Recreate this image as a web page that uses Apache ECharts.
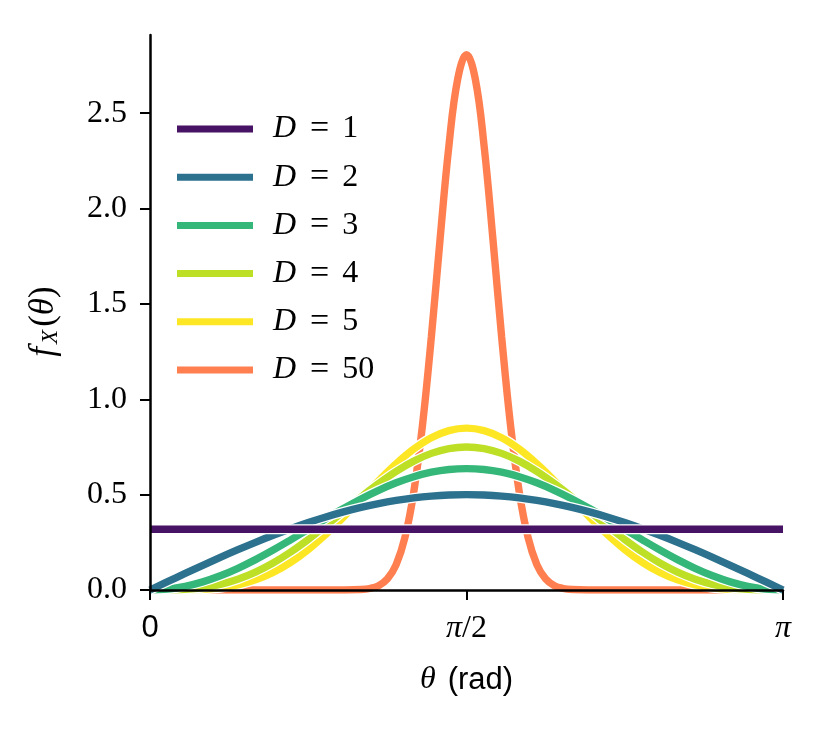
<!DOCTYPE html>
<html>
<head>
<meta charset="utf-8">
<script src="https://cdn.jsdelivr.net/npm/echarts@6/dist/echarts.min.js"></script>
<style>html,body{margin:0;padding:0;background:#fff}#c{width:830px;height:732px}</style>
</head>
<body>
<div id="c"></div>
<script>
// angles in degrees
const theta5 = [0,5,10,15,20,25,30,35,40,45,50,55,60,65,70,75,80,85,90,95,100,105,110,115,120,125,130,135,140,145,150,155,160,165,170,175,180];
const theta1 = [0,180];
const theta50 = [0,30,45,50,55,60,62.5,65,67.5,70,72.5,75,77.5,80,82.5,85,87.5,90,92.5,95,97.5,100,102.5,105,107.5,110,112.5,115,117.5,120,125,130,135,150,180];

const valsD1 = [0.3183,0.3183];
const valsD2 = [0,0.0436,0.0868,0.1294,0.1710,0.2113,0.25,0.2868,0.3214,0.3536,0.3830,0.4096,0.4330,0.4532,0.4698,0.4830,0.4924,0.4981,0.5,0.4981,0.4924,0.4830,0.4698,0.4532,0.4330,0.4096,0.3830,0.3536,0.3214,0.2868,0.25,0.2113,0.1710,0.1294,0.0868,0.0436,0];
const valsD3 = [0,0.0048,0.0192,0.0427,0.0745,0.1137,0.1592,0.2094,0.2630,0.3183,0.3736,0.4272,0.4775,0.5229,0.5622,0.5940,0.6174,0.6318,0.6366,0.6318,0.6174,0.5940,0.5622,0.5229,0.4775,0.4272,0.3736,0.3183,0.2630,0.2094,0.1592,0.1137,0.0745,0.0427,0.0192,0.0048,0];
const valsD4 = [0,0.0005,0.0039,0.0130,0.0300,0.0566,0.0938,0.1415,0.1992,0.2652,0.3371,0.4122,0.4871,0.5583,0.6223,0.6759,0.7163,0.7415,0.75,0.7415,0.7163,0.6759,0.6223,0.5583,0.4871,0.4122,0.3371,0.2652,0.1992,0.1415,0.0938,0.0566,0.0300,0.0130,0.0039,0.0005,0];
const valsD5 = [0,0.0000,0.0008,0.0038,0.0116,0.0271,0.0531,0.0919,0.1449,0.2122,0.2923,0.3822,0.4775,0.5727,0.6619,0.7389,0.7984,0.8360,0.8488,0.8360,0.7984,0.7389,0.6619,0.5727,0.4775,0.3822,0.2923,0.2122,0.1449,0.0919,0.0531,0.0271,0.0116,0.0038,0.0008,0.0000,0];
const valsD50 = [0,0,0,0,0.0002,0.0024,0.0079,0.0226,0.0580,0.1332,0.2753,0.5135,0.8664,1.3258,1.8425,2.3287,2.6790,2.8070,2.6790,2.3287,1.8425,1.3258,0.8664,0.5135,0.2753,0.1332,0.0580,0.0226,0.0079,0.0024,0.0002,0,0,0,0];

const seriesNames = ['1','2','3','4','5','50'];
const seriesColors = ['#471365','#2c718e','#35b779','#bddf26','#fde725','#ff7f50'];
const yTicks = [0,0.5,1.0,1.5,2.0,2.5];
const xTickDeg = [0,90,180];
const xTickLabels = ['{s|0}','{m|π}{r|/2}','{m|π}'];

const toRad = d => d * Math.PI / 180;
const pairs = (th, v) => th.map((t, i) => [toRad(t), v[i]]);
const seriesData = {
  '1': pairs(theta1, valsD1),
  '2': pairs(theta5, valsD2),
  '3': pairs(theta5, valsD3),
  '4': pairs(theta5, valsD4),
  '5': pairs(theta5, valsD5),
  '50': pairs(theta50, valsD50)
};

const LW = 7.4;
const series = [];
// draw D=50 first (bottom), D=1 last (top)
for (let k = seriesNames.length - 1; k >= 0; k--) {
  const n = seriesNames[k];
  const col = seriesColors[k];
  series.push({
    name: '_w' + n, type: 'line', data: seriesData[n], showSymbol: false, smooth: 0.4,
    lineStyle: {color: '#ffffff', width: LW + 2.5}, itemStyle: {color: '#ffffff'},
    silent: true, emphasis: {disabled: true}, z: 2
  });
  series.push({
    name: 'D = ' + n, type: 'line', data: seriesData[n], showSymbol: false, smooth: 0.4,
    lineStyle: {color: col, width: LW}, itemStyle: {color: col}, color: col,
    emphasis: {disabled: true}, z: 2
  });
}

const serif = "'Liberation Serif', 'DejaVu Serif', serif";
const sans = "'Liberation Sans', 'DejaVu Sans', sans-serif";
const FS = 32;

const chart = echarts.init(document.getElementById('c'), null, {renderer: 'canvas'});
chart.setOption({
  animation: false,
  backgroundColor: '#ffffff',
  grid: {left: 150, right: 47, top: 35, bottom: 142, outerBoundsMode: 'none', containLabel: false},
  legend: {
    data: seriesNames.map(n => 'D = ' + n),
    orient: 'vertical', left: 172, top: 107,
    icon: 'rect', itemWidth: 76, itemHeight: 7, itemGap: 14.2,
    selectedMode: false,
    formatter: name => '{d|D}{e|=}{n|' + name.slice(4) + '}',
    textStyle: {
      padding: [0, 0, 0, 15],
      rich: {
        d: {fontFamily: serif, fontStyle: 'italic', fontSize: FS, color: '#000', lineHeight: 33},
        e: {fontFamily: serif, fontSize: FS + 2, color: '#000', padding: [0, 13, 0, 14], lineHeight: 33},
        n: {fontFamily: serif, fontSize: FS, color: '#000', lineHeight: 33}
      }
    }
  },
  xAxis: {
    type: 'value', min: 0, max: Math.PI, interval: Math.PI / 2, z: 5,
    name: '{t|θ}{r|(rad)}', nameLocation: 'middle', nameGap: 74,
    nameTextStyle: {
      rich: {
        t: {fontFamily: serif, fontStyle: 'italic', fontSize: FS, color: '#000', padding: [0, 12, 0, 0]},
        r: {fontFamily: sans, fontSize: FS - 1, color: '#000'}
      }
    },
    axisLine: {onZero: false, lineStyle: {color: '#000', width: 2.5}},
    axisTick: {show: true, length: 10, lineStyle: {color: '#000', width: 2}, customValues: xTickDeg.map(toRad)},
    splitLine: {show: false},
    axisLabel: {
      margin: 23,
      customValues: xTickDeg.map(toRad),
      formatter: v => xTickLabels[xTickDeg.findIndex(d => Math.abs(toRad(d) - v) < 1e-6)] || '',
      rich: {
        s: {fontFamily: sans, fontSize: FS - 1, color: '#000'},
        m: {fontFamily: serif, fontStyle: 'italic', fontSize: FS, color: '#000'},
        r: {fontFamily: serif, fontSize: FS, color: '#000'}
      }
    }
  },
  yAxis: {
    type: 'value', min: 0, max: 2.91, interval: 0.5, z: 5,
    name: '{f|f}{x|X}{p|(}{t|θ}{p|)}', nameLocation: 'middle', nameGap: 88, nameRotate: 90,
    nameTextStyle: {
      padding: [0, 18, 0, 0],
      rich: {
        f: {fontFamily: serif, fontStyle: 'italic', fontSize: FS + 3, color: '#000', padding: [0, 3, 0, 0]},
        x: {fontFamily: serif, fontStyle: 'italic', fontSize: 23, color: '#000', padding: [13, 3, 0, 0]},
        p: {fontFamily: serif, fontSize: FS + 3, color: '#000'},
        t: {fontFamily: serif, fontStyle: 'italic', fontSize: FS + 3, color: '#000'}
      }
    },
    axisLine: {show: true, onZero: false, lineStyle: {color: '#000', width: 2.5}},
    axisTick: {show: true, length: 10, lineStyle: {color: '#000', width: 2}, customValues: yTicks},
    splitLine: {show: false},
    axisLabel: {
      margin: 23, fontFamily: serif, fontSize: FS, color: '#000',
      customValues: yTicks,
      formatter: v => v.toFixed(1)
    }
  },
  series: series
});
</script>
</body>
</html>
